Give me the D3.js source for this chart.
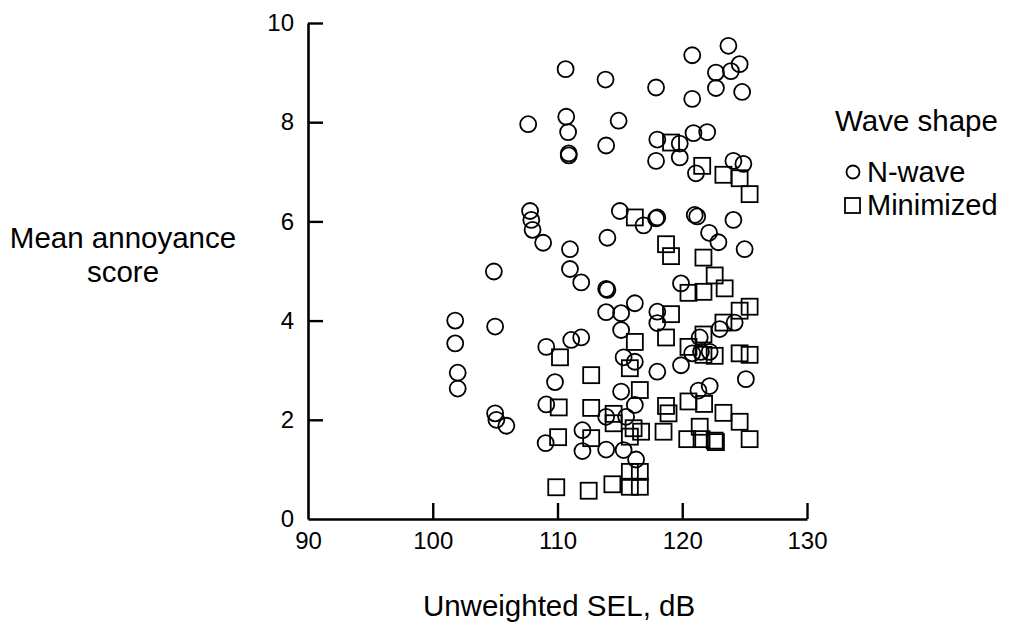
<!DOCTYPE html>
<html>
<head>
<meta charset="utf-8">
<script src="https://cdn.jsdelivr.net/npm/d3@7"></script>
<style>
  body { margin: 0; background: #fff; }
  svg { display: block; font-family: "Liberation Sans", Arial, sans-serif; }
</style>
</head>
<body>
<svg id="chart" width="1013" height="635"></svg>
<script>
// N-wave points (SEL dB, annoyance)
const nwaveX = [110.65, 113.85, 117.9, 120.8, 123.7, 124.6, 123.9, 122.7, 122.7, 120.8, 124.8,
    107.65, 110.7, 110.85, 110.9, 110.9, 114.9, 113.9, 118.0, 119.8, 120.9, 122.0, 117.9, 119.8,
    121.1, 124.1, 124.9, 107.8, 107.9, 108.0, 108.85, 111.0, 114.0, 115.0, 116.9, 118.0, 117.9,
    121.0, 121.2, 122.15, 122.9, 124.1, 125.0, 104.9, 111.0, 111.9, 113.9, 114.0, 119.9, 116.2,
    113.9, 115.1, 118.0, 118.0, 115.1, 101.8, 105.0, 101.8, 109.1, 111.1, 111.9, 121.4, 123.0,
    124.2, 120.8, 121.5, 122.2, 119.9, 115.3, 116.2, 118.0, 102.0, 102.0, 109.8, 125.1, 115.1,
    116.2, 122.2, 121.3, 109.1, 113.9, 115.5, 105.0, 105.1, 105.9, 109.05, 112.0, 112.0, 113.9,
    115.3, 116.3]
const nwaveY = [9.07, 8.86, 8.70, 9.35, 9.54, 9.17, 9.03, 9.0, 8.69, 8.47, 8.61,
    7.96, 8.11, 7.80, 7.37, 7.33, 8.03, 7.53, 7.65, 7.57, 7.78, 7.80, 7.22, 7.29,
    6.97, 7.22, 7.16, 6.21, 6.03, 5.83, 5.57, 5.44, 5.67, 6.21, 5.92, 6.08, 6.06,
    6.13, 6.10, 5.77, 5.58, 6.03, 5.44, 4.99, 5.04, 4.77, 4.64, 4.62, 4.75, 4.35,
    4.17, 4.15, 4.18, 3.95, 3.81, 4.00, 3.88, 3.54, 3.47, 3.61, 3.66, 3.66, 3.83,
    3.96, 3.34, 3.37, 3.37, 3.10, 3.26, 3.17, 2.97, 2.95, 2.63, 2.76, 2.82, 2.57,
    2.30, 2.68, 2.59, 2.31, 2.06, 2.06, 2.13, 2.00, 1.88, 1.53, 1.79, 1.37, 1.40,
    1.39, 1.20]

// Minimized points
const minX = [119.1, 121.6, 123.3, 124.6, 125.4, 116.2, 118.7, 119.1, 121.7, 122.6, 120.5,
    121.7, 123.4, 125.4, 124.6, 119.1, 123.3, 116.2, 118.7, 120.5, 121.7, 110.2, 115.8, 121.7,
    122.6, 124.6, 125.4, 112.7, 116.6, 110.1, 112.7, 114.5, 114.5, 118.7, 118.9, 120.5, 121.75,
    123.3, 124.6, 121.4, 116.1, 116.7, 115.8, 118.5, 110.05, 112.7, 120.4, 121.55, 122.6, 122.7,
    125.4, 109.9, 112.5, 114.4, 115.8, 116.6, 115.8, 116.6]
const minY = [7.59, 7.12, 6.94, 6.87, 6.55, 6.08, 5.54, 5.30, 5.27, 4.91, 4.56,
    4.58, 4.65, 4.28, 4.20, 4.13, 3.96, 3.57, 3.66, 3.47, 3.72, 3.26, 3.04, 3.31,
    3.29, 3.34, 3.31, 2.90, 2.60, 2.25, 2.24, 2.12, 1.93, 2.28, 2.13, 2.37, 2.32,
    2.14, 1.96, 1.86, 1.83, 1.76, 1.66, 1.76, 1.65, 1.63, 1.61, 1.61, 1.58, 1.55,
    1.61, 0.64, 0.57, 0.70, 0.95, 0.95, 0.65, 0.65]

const xTicks = [90, 100, 110, 120, 130]
const yTicks = [0, 2, 4, 6, 8, 10]
const legendItems = ['N-wave', 'Minimized']

const svg = d3.select('#chart')
const x = d3.scaleLinear().domain([90, 130]).range([308, 807])
const y = d3.scaleLinear().domain([0, 10]).range([519, 23])

// axes, ticks pointing inward
const xAxis = svg.append('g')
    .attr('transform', `translate(0,${y(0)})`)
    .call(d3.axisBottom(x).tickValues(xTicks).tickSize(-16).tickSizeOuter(0).tickPadding(13))
const yAxis = svg.append('g')
    .attr('transform', `translate(${x(90)},0)`)
    .call(d3.axisLeft(y).tickValues(yTicks).tickSize(-15).tickSizeOuter(0).tickPadding(14))

for (const ax of [xAxis, yAxis]) {
    ax.select('.domain').attr('stroke', '#000').attr('stroke-width', 2.6)
    ax.selectAll('.tick line').attr('stroke', '#000').attr('stroke-width', 2.4)
    ax.selectAll('.tick text').attr('fill', '#000')
        .style('font-size', '24px').style('font-family', '"Liberation Sans", Arial, sans-serif')
}
xAxis.selectAll('.tick').filter(d => d === 90).select('line').remove()
yAxis.selectAll('.tick').filter(d => d === 0).select('line').remove()

// points
const nwave = nwaveX.map((v, i) => ({ x: v, y: nwaveY[i] }))
const minimized = minX.map((v, i) => ({ x: v, y: minY[i] }))

svg.append('g').selectAll('circle')
    .data(nwave)
    .enter().append('circle')
    .attr('cx', d => x(d.x))
    .attr('cy', d => y(d.y))
    .attr('r', 8)
    .attr('fill', 'none')
    .attr('stroke', '#000')
    .attr('stroke-width', 1.8)

const sq = 16
svg.append('g').selectAll('rect')
    .data(minimized)
    .enter().append('rect')
    .attr('x', d => x(d.x) - sq / 2)
    .attr('y', d => y(d.y) - sq / 2)
    .attr('width', sq)
    .attr('height', sq)
    .attr('fill', 'none')
    .attr('stroke', '#000')
    .attr('stroke-width', 1.8)

// axis titles
svg.append('text')
    .attr('x', 559).attr('y', 616)
    .attr('text-anchor', 'middle')
    .style('font-size', '29.5px')
    .text('Unweighted SEL, dB')

const yTitle = svg.append('text')
    .attr('text-anchor', 'middle')
    .style('font-size', '29.5px')
yTitle.append('tspan').attr('x', 123).attr('y', 248).text('Mean annoyance')
yTitle.append('tspan').attr('x', 123).attr('y', 282).text('score')

// legend
svg.append('text')
    .attr('x', 835).attr('y', 131)
    .style('font-size', '29.5px')
    .text('Wave shape')

const lg = svg.append('g')
    .selectAll('g')
    .data(legendItems)
    .enter().append('g')
    .attr('transform', (d, i) => `translate(853,${172 + i * 33})`)
lg.filter((d, i) => i === 0).append('circle')
    .attr('r', 6.5).attr('fill', 'none').attr('stroke', '#000').attr('stroke-width', 1.8)
lg.filter((d, i) => i === 1).append('rect')
    .attr('x', -8).attr('y', -7).attr('width', 15).attr('height', 15)
    .attr('fill', 'none').attr('stroke', '#000').attr('stroke-width', 1.8)
lg.append('text')
    .attr('x', 14).attr('y', 10)
    .style('font-size', '29px')
    .text(d => d)
</script>
</body>
</html>
